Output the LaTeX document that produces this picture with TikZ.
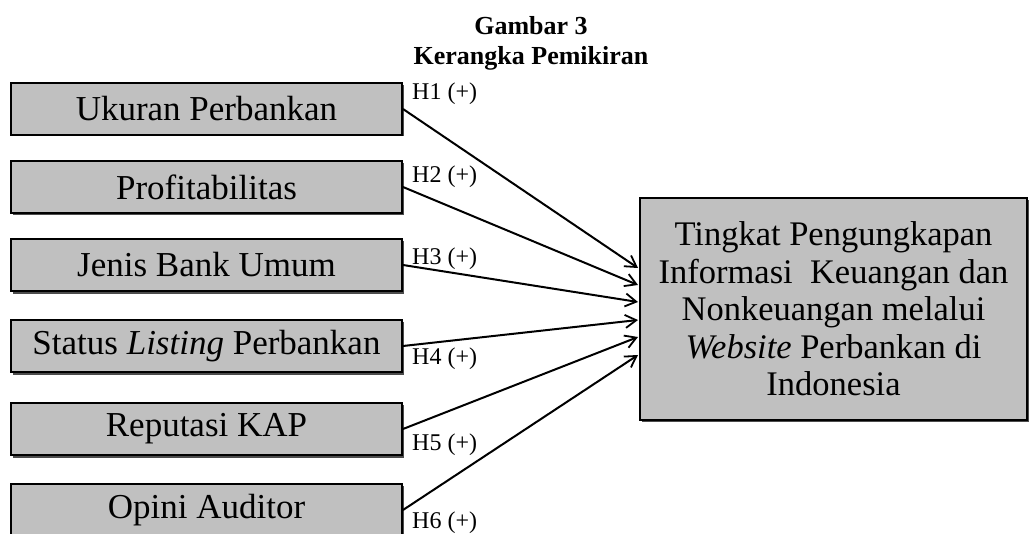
\documentclass[tikz,border=0pt]{standalone}
\usepackage{fontspec}
\setmainfont{Liberation Serif}
\usetikzlibrary{arrows.meta}
\definecolor{boxgray}{HTML}{C0C0C0}
\tikzset{
  varbox/.style={draw=black, line width=2pt, fill=boxgray, minimum width=391pt, minimum height=52pt, inner sep=0pt, font=\fontsize{35}{38}\selectfont},
  link/.style={line width=2pt, -{Straight Barb[length=11pt,width=13pt,line width=1.8pt]}},
  hlabel/.style={anchor=base west, inner sep=0pt, font=\fontsize{24}{26}\selectfont},
  title/.style={anchor=base, inner sep=0pt, font=\fontsize{26}{28}\selectfont\bfseries}
}
\begin{document}
\begin{tikzpicture}[x=1pt,y=-1pt]
\useasboundingbox (0,0) rectangle (1036,534);
% shadows
\foreach \t/\b in {82/133,160/212,238/291,319/372,402/455,483/536}{
  \fill[black!70] (13,\t+3) rectangle (404,\b+3);
}
\fill[black!70] (642,200) rectangle (1029,422);
\node[varbox, anchor=north west] (v1) at (10,82) {Ukuran Perbankan};
\node[varbox, anchor=north west] (v2) at (10,160) {Profitabilitas};
\node[varbox, anchor=north west] (v3) at (10,238) {Jenis Bank Umum};
\node[varbox, anchor=north west] (v4) at (10,319) {Status \textit{Listing} Perbankan};
\node[varbox, anchor=north west] (v5) at (10,402) {Reputasi KAP};
\node[varbox, anchor=north west] (v6) at (10,483) {Opini Auditor};
\node[draw=black, line width=2pt, fill=boxgray, anchor=north west, minimum width=387pt, minimum height=222pt, inner sep=0pt, align=center, font=\fontsize{34.5}{37.5}\selectfont] (dv) at (639,197)
 {Tingkat Pengungkapan\\Informasi\ \ Keuangan dan\\Nonkeuangan melalui\\\textit{Website} Perbankan di\\Indonesia};
\node[title] (t1) at (531,35) {Gambar 3};
\node[title] (t2) at (531,65) {Kerangka Pemikiran};
\coordinate (e1) at (638,268);
\coordinate (e2) at (638,285);
\coordinate (e3) at (638,302);
\coordinate (e4) at (638,320);
\coordinate (e5) at (638,337);
\coordinate (e6) at (638,355);
\draw[link] (v1.east) -- (e1);
\draw[link] (v2.east) -- (e2);
\draw[link] (v3.east) -- (e3);
\draw[link] (v4.east) -- (e4);
\draw[link] (v5.east) -- (e5);
\draw[link] (v6.east) -- (e6);
\node[hlabel] (h1) at (412,100) {H1 (+)};
\node[hlabel] (h2) at (412,183) {H2 (+)};
\node[hlabel] (h3) at (412,265) {H3 (+)};
\node[hlabel] (h4) at (412,365) {H4 (+)};
\node[hlabel] (h5) at (412,450) {H5 (+)};
\node[hlabel] (h6) at (412,528) {H6 (+)};
\end{tikzpicture}
\end{document}
